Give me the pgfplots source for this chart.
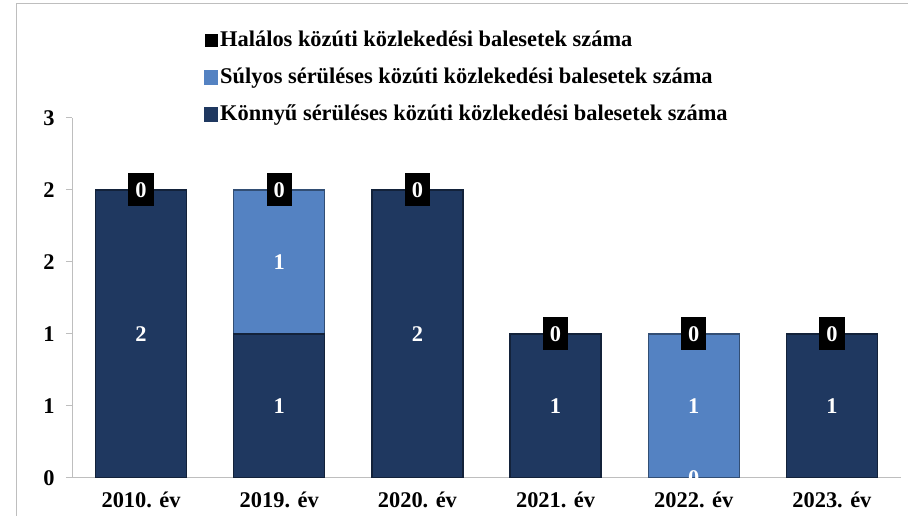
\documentclass[border=0pt]{standalone}
\usepackage{pgfplots}
\pgfplotsset{compat=1.18}
\usepackage{pgfplotstable}
\usepackage{fontspec}
\setmainfont{Liberation Serif}

\definecolor{konnyu}{RGB}{31,56,96}
\definecolor{sulyos}{RGB}{84,130,194}
\definecolor{keret}{RGB}{190,190,190}

% x: év sorszáma, k: könnyű, s: súlyos, h: halálos
\pgfplotstableread{
x k s h
0 2 0 0
1 1 1 0
2 2 0 0
3 1 0 0
4 0 1 0
5 1 0 0
}\adat

\pgfplotsset{kozos/.style={
    at={(72bp,38bp)}, anchor=south west,
    scale only axis, width=829bp, height=360bp,
    xmin=-0.5, xmax=5.5, ymin=0, ymax=2.5,
}}

\begin{document}
\begin{tikzpicture}
\path[use as bounding box] (0,0) rectangle (908bp,516bp);
\draw[keret, line width=1bp] (16bp,0) -- (16bp,512bp) -- (908bp,512bp);
\begin{axis}[
    kozos,
    ybar stacked, bar width=91bp,
    xtick={0,1,2,3,4,5},
    xticklabels={2010. év,2019. év,2020. év,2021. év,2022. év,2023. év},
    ytick={0,0.5,1,1.5,2,2.5},
    yticklabels={0,1,1,2,2,3},
    axis x line*=bottom, axis y line*=left,
    axis line style={draw=keret, line width=1bp, -},
    tick align=outside, major tick length=6bp,
    xtick style={draw=none},
    ytick style={draw=keret, line width=1bp},
    yticklabel style={anchor=east, xshift=-8bp},
    xticklabel style={yshift=-4bp},
    /pgf/number format/assume math mode=true,
    font=\bfseries\fontsize{22.5}{27}\selectfont,
    reverse legend,
    legend cell align=left,
    legend style={at={(0.159,1.247)}, anchor=north west, draw=none, fill=none,
        inner sep=0pt, row sep=13.5bp, column sep=1bp,
        nodes={inner sep=1bp, text height=16bp, text depth=5.5bp},
        font=\bfseries\fontsize{22.5}{27}\selectfont},
]
\addplot[fill=konnyu, draw=konnyu!60!black, line width=1.2bp,
    legend image code/.code={\fill[konnyu] (0bp,-6bp) rectangle (13bp,7bp);}]
    table[x=x, y=k] {\adat};
\addlegendentry{Könnyű sérüléses közúti közlekedési balesetek száma}
\addplot[fill=sulyos, draw=sulyos!60!black, line width=1.2bp,
    legend image code/.code={\fill[sulyos] (0bp,-6bp) rectangle (13bp,7bp);}]
    table[x=x, y=s] {\adat};
\addlegendentry{Súlyos sérüléses közúti közlekedési balesetek száma}
\addplot[fill=black, draw=none,
    legend image code/.code={\fill[black] (0bp,-6bp) rectangle (13bp,7bp);}]
    table[x=x, y=h] {\adat};
\addlegendentry{Halálos közúti közlekedési balesetek száma}
\end{axis}
% adatfeliratok
\begin{axis}[kozos, hide axis, font=\bfseries\fontsize{22.5}{27}\selectfont,
    nodes near coords, point meta=explicit symbolic]
\addplot[draw=none, mark=none,
    every node near coord/.append style={anchor=center, text=white}]
    coordinates {(0,1) [2] (1,0.5) [1] (1,1.5) [1] (2,1) [2] (3,0.5) [1]
                 (4,0) [0] (4,0.5) [1] (5,0.5) [1]};
\addplot[draw=none, mark=none,
    every node near coord/.append style={anchor=center, text=white, fill=black,
        inner xsep=7bp, inner ysep=0bp, minimum height=33bp}]
    coordinates {(0,2) [0] (1,2) [0] (2,2) [0] (3,1) [0] (4,1) [0] (5,1) [0]};
\end{axis}
\end{tikzpicture}
\end{document}
